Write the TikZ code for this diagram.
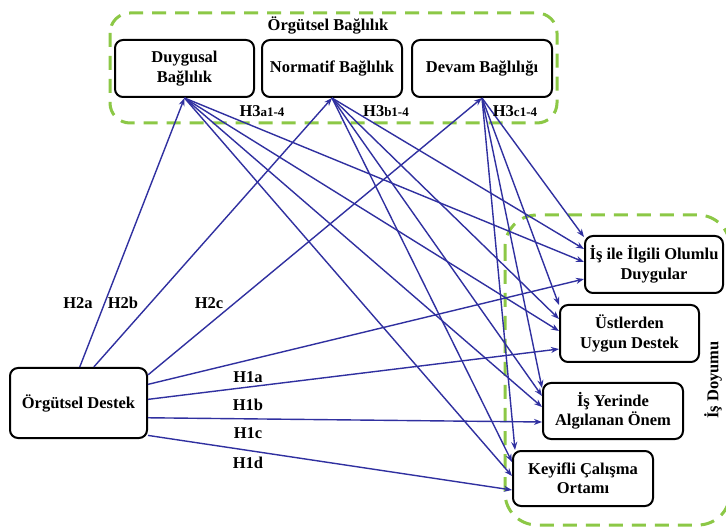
\documentclass[tikz,border=0pt]{standalone}
\usepackage{fontspec}
\setmainfont{Liberation Serif}
\usetikzlibrary{arrows.meta,calc}
\definecolor{arrowblue}{RGB}{48,48,160}
\definecolor{dashgreen}{RGB}{140,200,70}
\newcommand\mysubsize{\fontsize{13}{15}\selectfont}
\begin{document}
\begin{tikzpicture}[x=1pt,y=-1pt,
  box/.style={draw=black,line width=2pt,rounded corners=8pt,fill=white,align=center,
    font=\bfseries\fontsize{16.5}{19.5}\selectfont,inner sep=0pt},
  grp/.style={draw=dashgreen,line width=3pt,dash pattern=on 14pt off 9pt},
  conn/.style={draw=arrowblue,line width=1.4pt,-{Stealth[length=8pt,width=6pt]}},
  lbl/.style={font=\bfseries\fontsize{16.5}{19.5}\selectfont,inner sep=0pt}]
\clip (0,0) rectangle (726,529);
\fill[white] (0,0) rectangle (726,529);
% groups
\draw[grp,rounded corners=20pt] (110,13) rectangle (557,123);
\draw[grp,rounded corners=32pt] (505,215) rectangle (730,525);
\node[lbl] (obt) at (328,25) {Örgütsel Bağlılık};
\node[lbl,rotate=90] (isd) at (713,380) {İş Doyumu};
% boxes
\node[box,minimum width=139pt,minimum height=57pt] (dy) at (184.5,68.5) {Duygusal\\Bağlılık};
\node[box,minimum width=140pt,minimum height=57pt] (nb) at (332,68.5) {Normatif Bağlılık};
\node[box,minimum width=140pt,minimum height=57pt] (dv) at (482,68.5) {Devam Bağlılığı};
\node[box,minimum width=137pt,minimum height=70pt] (od) at (78.5,403) {Örgütsel Destek};
\node[box,minimum width=138pt,minimum height=57pt] (ii) at (654,264.5) {İş ile İlgili Olumlu\\Duygular};
\node[box,minimum width=139pt,minimum height=57pt] (us) at (629.5,333.5) {Üstlerden\\Uygun Destek};
\node[box,minimum width=140pt,minimum height=56pt] (iy) at (613,411) {İş Yerinde\\Algılanan Önem};
\node[box,minimum width=140pt,minimum height=55pt] (ko) at (583,478.5) {Keyifli Çalışma\\Ortamı};
% connectors from Örgütsel Destek
\draw[conn] (od.88) -- (dy.south);
\draw[conn] (od.67.5) -- (nb.south);
\draw[conn] (od.22) -- (dv.south);
\draw[conn] (od.15) -- ($(ii.north west)+(0,44)$);
\draw[conn] (od.3) -- ($(us.north west)+(0,45)$);
\draw[conn] (od.-12) -- ($(iy.north west)+(0,40)$);
\draw[conn] (od.-25) -- ($(ko.north west)+(0,40)$);
% connectors from Duygusal
\draw[conn] (dy.south) -- ($(ii.north west)+(0,27)$);
\draw[conn] (dy.south) -- ($(us.north west)+(0,27)$);
\draw[conn] (dy.south) -- ($(iy.north west)+(0,25)$);
\draw[conn] (dy.south) -- ($(ko.north west)+(0,26)$);
% connectors from Normatif
\draw[conn] (nb.south) -- ($(ii.north west)+(0,14)$);
\draw[conn] (nb.south) -- ($(us.north west)+(0,15)$);
\draw[conn] (nb.south) -- ($(iy.north west)+(0,14)$);
\draw[conn] (nb.south) -- ($(ko.north west)+(0,12)$);
% connectors from Devam
\draw[conn] (dv.south) -- ($(ii.north west)+(0,2)$);
\draw[conn] (dv.south) -- ($(us.north west)+(0,1)$);
\draw[conn] (dv.south) -- ($(iy.north west)+(0,6)$);
\draw[conn] (dv.south) -- ($(ko.north west)+(3,0)$);
% labels
\node[lbl] (h3a) at (262,111) {H3{\mysubsize a1-4}};
\node[lbl] (h3b) at (386,111) {H3{\mysubsize b1-4}};
\node[lbl] (h3c) at (515,111) {H3{\mysubsize c1-4}};
\node[lbl] (h2a) at (78,303) {H2a};
\node[lbl] (h2b) at (123,303) {H2b};
\node[lbl] (h2c) at (209,303) {H2c};
\node[lbl] (h1a) at (248,377) {H1a};
\node[lbl] (h1b) at (248,405) {H1b};
\node[lbl] (h1c) at (248,433) {H1c};
\node[lbl] (h1d) at (248,463) {H1d};
\end{tikzpicture}
\end{document}
